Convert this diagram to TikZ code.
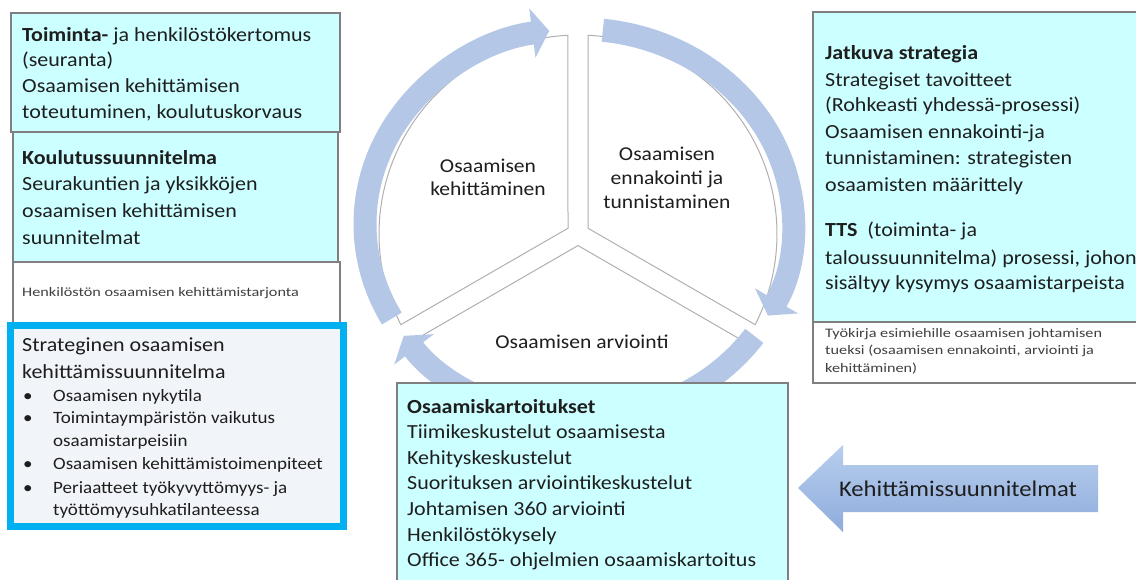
\documentclass[tikz,border=0pt]{standalone}
\usepackage{fontspec}
\setmainfont{Carlito}[FakeStretch=1.1]
\newfontfamily\smallf{Carlito}[FakeStretch=1.25]
\usetikzlibrary{arrows.meta,calc}
\definecolor{cyanbox}{HTML}{CCFFFF}
\definecolor{boxline}{HTML}{7F7F7F}
\definecolor{bluebord}{HTML}{00B0F0}
\definecolor{paleblue}{HTML}{F1F4F8}
\definecolor{ringblue}{HTML}{B4C7E7}
\definecolor{txt}{HTML}{1E1E1E}
\definecolor{piegray}{HTML}{B0B0B0}
\definecolor{arrdark}{HTML}{8EACDB}
\definecolor{arrlight}{HTML}{B8CEEE}
\begin{document}
\begin{tikzpicture}[x=1pt,y=-1pt,
  bigtext/.style={text=txt, inner sep=0pt, anchor=base west, font=\fontsize{20}{24}\selectfont},
  midtext/.style={text=txt, inner sep=0pt, anchor=base west, font=\fontsize{17.3}{21}\selectfont},
  smalltext/.style={text=txt!85, inner sep=0pt, anchor=base west, font=\smallf\fontsize{13}{16}\selectfont},
  centertext/.style={text=txt, inner sep=0pt, anchor=base, font=\fontsize{19.6}{24}\selectfont},
  arrowtext/.style={text=txt, inner sep=0pt, anchor=base, font=\fontsize{22.4}{26}\selectfont},
  cbox/.style={draw=boxline, fill=cyanbox, line width=1.2pt},
  wbox/.style={draw=boxline, fill=white, line width=1.2pt},
  sector/.style={draw=piegray, fill=white, line width=1pt},
  ringarc/.style={draw=ringblue, line width=23pt, line cap=butt, -{Triangle[length=17pt,width=49pt]}},
]
\useasboundingbox (0,0) rectangle (1136,579);
\fill[white] (0,0) rectangle (1136,579);

% pie sectors
\coordinate (pc) at (578,234);
\draw[sector] ($(pc)+(-10,-5.77)$) -- ($(pc)+(-92.9:199)$) arc[start angle=-92.9, end angle=-207.1, radius=199] -- cycle;
\draw[sector] ($(pc)+(10,-5.77)$) -- ($(pc)+(-87.1:199)$) arc[start angle=-87.1, end angle=27.1, radius=199] -- cycle;
\draw[sector] ($(pc)+(0,11.55)$) -- ($(pc)+(147.1:199)$) arc[start angle=147.1, end angle=32.9, radius=199] -- cycle;

% ring arrows
\coordinate (rc) at (579,224);
\draw[ringarc] ($(rc)+({214*cos(151)},{195*sin(151)})$) arc[start angle=151, end angle=262, x radius=214, y radius=195];
\draw[ringarc] ($(rc)+({214*cos(276.4)},{195*sin(276.4)})$) arc[start angle=276.4, end angle=388, x radius=214, y radius=195];
\draw[ringarc] ($(rc)+({214*cos(35)},{195*sin(35)})$) arc[start angle=35, end angle=145, x radius=214, y radius=195];

% pie labels
\node[centertext] (k1) at (488,172) {Osaamisen};
\node[centertext] (k2) at (488,195) {kehittäminen};
\node[centertext] (e1) at (667,160) {Osaamisen};
\node[centertext] (e2) at (667,184) {ennakointi ja};
\node[centertext] (e3) at (667,208) {tunnistaminen};
\node[centertext] (a1) at (582,348) {Osaamisen arviointi};

% left boxes
\draw[cbox] (11,13) rectangle (340,132);
\draw[cbox] (13,132) rectangle (338,262);
\draw[wbox] (13,262) rectangle (340,326);
\draw[draw=bluebord, fill=paleblue, line width=7pt] (10.5,325.5) rectangle (343.5,526.5);

\foreach \t [count=\i] in {{\textbf{Toiminta-} ja henkilöstökertomus},{(seuranta)},{Osaamisen kehittämisen},{toteutuminen, koulutuskorvaus}}
  \node[bigtext] (ta\i) at (22,{41+25.7*(\i-1)}) {\t};
\foreach \t [count=\i] in {{\textbf{Koulutussuunnitelma}},{Seurakuntien ja yksikköjen},{osaamisen kehittämisen},{suunnitelmat}}
  \node[bigtext] (tb\i) at (22,{164+26.7*(\i-1)}) {\t};
\node[smalltext] (tc1) at (22,296) {Henkilöstön osaamisen kehittämistarjonta};
\node[bigtext] (td1) at (22,351) {Strateginen osaamisen};
\node[bigtext] (td2) at (22,378) {kehittämissuunnitelma};
\foreach \y/\t [count=\i] in {401/{Osaamisen nykytila},423/{Toimintaympäristön vaikutus},469/{Osaamisen kehittämistoimenpiteet},493/{Periaatteet työkyvyttömyys- ja}}
  {\node[midtext] (bu\i) at (23,\y) {•};
   \node[midtext] (bt\i) at (53,\y) {\t};}
\node[midtext] (bx1) at (53,446) {osaamistarpeisiin};
\node[midtext] (bx2) at (53,515) {työttömyysuhkatilanteessa};

% right boxes
\draw[cbox] (813,12) rectangle (1145,322);
\draw[wbox] (813,322) rectangle (1145,383);
\foreach \y/\t [count=\i] in {59/{\textbf{Jatkuva strategia}},86/{Strategiset tavoitteet},111/{(Rohkeasti yhdessä-prosessi)},138/{Osaamisen ennakointi-ja},164/{tunnistaminen: strategisten},191/{osaamisten määrittely},236/{\textbf{TTS}\ \ (toiminta- ja},264/{taloussuunnitelma) prosessi, johon},289/{sisältyy kysymys osaamistarpeista}}
  \node[bigtext] (tr\i) at (825,\y) {\t};
\foreach \y/\t [count=\i] in {337/{Työkirja esimiehille osaamisen johtamisen},354/{tueksi (osaamisen ennakointi, arviointi ja},372/{kehittäminen)}}
  \node[smalltext] (ts\i) at (825,\y) {\t};

% bottom box
\draw[cbox] (397,383) rectangle (788,600);
\foreach \t [count=\i] in {{\textbf{Osaamiskartoitukset}},{Tiimikeskustelut osaamisesta},{Kehityskeskustelut},{Suorituksen arviointikeskustelut},{Johtamisen 360 arviointi},{Henkilöstökysely},{Office 365- ohjelmien osaamiskartoitus}}
  \node[bigtext] (tk\i) at (407,{413+25.6*(\i-1)}) {\t};

% block arrow
\shade[top color=arrlight, bottom color=arrdark] (798,488) -- (843,445) -- (843,465) -- (1098,465) -- (1098,512) -- (843,512) -- (843,532) -- cycle;
\node[arrowtext] (kehit) at (958,496) {Kehittämissuunnitelmat};
\end{tikzpicture}
\end{document}
